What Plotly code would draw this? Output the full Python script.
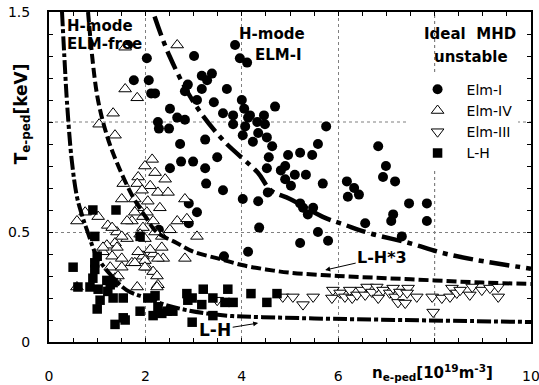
import plotly.graph_objects as go

# ---------------- data ----------------
elm1_n = [1.64, 2.03, 3.01, 3.86, 3.96, 4.11, 1.76, 2.07, 2.12, 2.20, 3.17, 3.38, 3.28, 2.88, 2.82, 3.17,
          3.07, 3.42, 3.69, 4.00, 2.51, 2.66, 2.82, 3.61, 3.82, 4.05, 4.13, 2.26, 2.28, 2.49, 3.82, 4.07,
          4.32, 2.72, 3.24, 2.74, 2.99, 2.51, 3.24, 3.49, 3.26, 3.61, 4.02, 2.90, 3.07, 2.90, 2.28, 4.23,
          4.02, 4.34, 4.36, 3.63, 4.13, 4.69, 4.46, 4.17, 4.48, 5.75, 4.34, 4.52, 4.63, 5.58, 5.21, 4.96,
          5.46, 4.56, 4.90, 4.81, 4.52, 5.10, 5.33, 4.90, 5.02, 5.68, 6.18, 6.33, 6.43, 6.20, 4.54, 6.83,
          6.99, 6.93, 7.18, 7.47, 7.84, 7.14, 7.10, 7.84, 6.56, 7.32, 5.21, 5.27, 5.48, 5.37, 5.58, 5.79, 5.21]
elm1_T = [1.35, 1.29, 1.30, 1.35, 1.29, 1.27, 1.19, 1.19, 1.13, 1.13, 1.21, 1.22, 1.19, 1.17, 1.14, 1.15,
          1.10, 1.09, 1.15, 1.10, 1.06, 1.02, 1.01, 1.04, 1.03, 1.06, 1.02, 1.00, 0.97, 0.97, 0.99, 0.98,
          1.00, 0.90, 0.92, 0.82, 0.82, 0.79, 0.79, 0.84, 0.72, 0.69, 0.65, 0.63, 0.59, 0.54, 0.51, 0.91,
          0.94, 0.64, 0.52, 0.39, 0.41, 1.07, 1.03, 1.03, 0.99, 0.98, 0.95, 0.93, 0.89, 0.90, 0.86, 0.85,
          0.85, 0.84, 0.80, 0.78, 0.79, 0.76, 0.76, 0.74, 0.71, 0.72, 0.73, 0.70, 0.67, 0.66, 0.68, 0.89,
          0.80, 0.75, 0.73, 0.63, 0.63, 0.58, 0.55, 0.55, 0.54, 0.48, 0.63, 0.61, 0.61, 0.58, 0.50, 0.46, 0.45]

elm4_n = [1.58, 2.66, 1.58, 1.83, 1.33, 1.04, 1.37, 2.14, 1.99, 2.20, 1.85, 2.41, 1.54, 1.83, 2.10, 1.93,
          2.26, 2.47, 2.82, 1.51, 1.78, 2.05, 2.30, 1.85, 1.95, 2.16, 2.66, 2.86, 1.72, 2.51, 1.95, 2.20,
          3.07, 1.89, 0.75, 0.58, 1.02, 1.22, 1.41, 1.62, 1.78, 2.03, 1.31, 2.34, 1.62, 1.37, 1.20, 1.12,
          1.31, 1.51, 1.72, 1.95, 2.16, 2.37, 2.82, 2.03, 2.16, 2.24, 2.26, 1.37, 1.83, 2.24, 0.58, 1.51,
          1.99, 1.12, 1.41, 1.85, 2.10, 2.34, 1.99, 2.26, 1.27, 1.51, 1.78, 1.99, 1.43]
elm4_T = [1.34, 1.35, 1.15, 1.11, 1.04, 0.99, 0.94, 0.83, 0.80, 0.77, 0.75, 0.74, 0.72, 0.72, 0.71, 0.69,
          0.68, 0.68, 0.65, 0.65, 0.65, 0.64, 0.61, 0.61, 0.57, 0.55, 0.55, 0.56, 0.55, 0.51, 0.52, 0.50,
          0.48, 0.49, 0.59, 0.55, 0.57, 0.53, 0.50, 0.55, 0.59, 0.59, 0.52, 0.48, 0.47, 0.45, 0.44, 0.41,
          0.39, 0.38, 0.36, 0.39, 0.40, 0.38, 0.38, 0.34, 0.32, 0.30, 0.26, 0.29, 0.25, 0.25, 0.25, 0.48,
          0.47, 0.43, 0.43, 0.41, 0.42, 0.43, 0.37, 0.38, 0.34, 0.34, 0.36, 0.34, 0.30]

elm3_n = [4.85, 5.06, 5.27, 5.48, 3.49, 5.89, 5.87, 6.04, 6.14, 6.24, 6.29, 6.39, 6.49, 6.60, 6.56, 6.70,
          6.80, 6.83, 6.93, 7.07, 7.14, 7.18, 7.24, 7.28, 7.39, 7.45, 7.43, 7.63, 7.95, 7.97, 8.15, 8.32,
          8.36, 8.46, 8.53, 8.73, 8.78, 8.98, 9.15, 9.32, 9.32]
elm3_T = [0.205, 0.205, 0.17, 0.205, 0.19, 0.236, 0.20, 0.223, 0.205, 0.236, 0.20, 0.214, 0.236, 0.25,
          0.214, 0.227, 0.25, 0.20, 0.236, 0.223, 0.245, 0.205, 0.18, 0.227, 0.177, 0.245, 0.223, 0.205,
          0.205, 0.136, 0.20, 0.205, 0.245, 0.223, 0.236, 0.214, 0.25, 0.236, 0.245, 0.25, 0.205]

lh_n = [0.50, 0.91, 1.39, 0.95, 1.89, 1.00, 0.95, 0.95, 0.91, 0.60, 0.85, 1.02, 1.20, 1.27, 1.33, 1.22,
        1.33, 1.54, 1.06, 1.00, 1.54, 1.37, 1.58, 1.89, 2.05, 2.20, 2.16, 2.34, 2.45, 2.86, 2.97, 2.88,
        3.20, 3.17, 3.40, 3.65, 3.71, 3.82, 3.40, 2.97, 4.19, 4.52, 4.73, 2.57, 2.26]
lh_T = [0.34, 0.60, 0.60, 0.48, 0.48, 0.39, 0.36, 0.33, 0.29, 0.25, 0.25, 0.24, 0.28, 0.26, 0.27, 0.23,
        0.20, 0.20, 0.19, 0.15, 0.11, 0.08, 0.10, 0.14, 0.20, 0.21, 0.12, 0.13, 0.14, 0.22, 0.20, 0.19,
        0.24, 0.17, 0.20, 0.18, 0.24, 0.18, 0.12, 0.09, 0.22, 0.18, 0.22, 0.14, 0.16]

# boundary curves
mhd_n = [2.19, 2.5, 3.0, 3.6, 4.33, 4.6, 5.0, 5.67, 6.17, 6.64, 7.47, 8.16, 8.86, 10.0]
mhd_T = [1.48, 1.30, 1.09, 0.92, 0.77, 0.69, 0.65, 0.57, 0.53, 0.495, 0.45, 0.405, 0.373, 0.333]

lh3_n = [0.81, 1.0, 1.2, 1.4, 1.74, 2.0, 2.23, 2.65, 3.0, 3.5, 4.0, 4.5, 5.0, 6.0, 7.0, 8.0, 9.0, 10.0]
lh3_T = [1.50, 1.12, 0.94, 0.82, 0.66, 0.57, 0.50, 0.45, 0.41, 0.38, 0.35, 0.33, 0.315, 0.30, 0.29, 0.28, 0.27, 0.264]

lh_curve_n = [0.27, 0.33, 0.37, 0.47, 0.58, 0.68, 0.81, 0.99, 1.26, 1.61, 2.02, 2.43, 2.85, 3.27, 3.8, 4.43,
              5.5, 7.33, 10.0]
lh_curve_T = [1.50, 1.25, 1.10, 0.83, 0.66, 0.58, 0.495, 0.39, 0.31, 0.236, 0.20, 0.168, 0.145, 0.13, 0.118,
              0.113, 0.107, 0.10, 0.091]

# labelled ticks (the reference leaves 8 and 1 unlabelled) and unlabelled grid positions
x_tickvals = [0, 2, 4, 6, 10]
x_ticktext = ["0", "2", "4", "6", "10"]
x_extra_grid = [8]
y_tickvals = [0, 0.5, 1.5]
y_ticktext = ["0", "0.5", "1.5"]
y_extra_grid = [1.0]

FONT = "DejaVu Sans"
GRID = dict(color="#808080", width=1.2, dash="dot")

fig = go.Figure()

fig.add_trace(go.Scatter(x=elm1_n, y=elm1_T, mode="markers", name="Elm-I",
                         marker=dict(symbol="circle", size=10, color="black")))
fig.add_trace(go.Scatter(x=elm4_n, y=elm4_T, mode="markers", name="Elm-IV",
                         marker=dict(symbol="triangle-up", size=11, color="white",
                                     line=dict(color="black", width=1))))
fig.add_trace(go.Scatter(x=elm3_n, y=elm3_T, mode="markers", name="Elm-III",
                         marker=dict(symbol="triangle-down", size=11, color="white",
                                     line=dict(color="black", width=1))))
fig.add_trace(go.Scatter(x=lh_n, y=lh_T, mode="markers", name="L-H",
                         marker=dict(symbol="square", size=9.5, color="black")))

fig.add_trace(go.Scatter(x=mhd_n, y=mhd_T, mode="lines", showlegend=False, line_shape="spline",
                         line=dict(color="black", width=4.5, dash="20px,6px,5px,6px")))
fig.add_trace(go.Scatter(x=lh3_n, y=lh3_T, mode="lines", showlegend=False, line_shape="spline",
                         line=dict(color="black", width=4, dash="10px,4px")))
fig.add_trace(go.Scatter(x=lh_curve_n, y=lh_curve_T, mode="lines", showlegend=False, line_shape="spline",
                         line=dict(color="black", width=4, dash="14px,3px,4px,3px")))

for xv in x_extra_grid:
    fig.add_shape(type="line", xref="x", yref="paper", x0=xv, x1=xv, y0=0, y1=1,
                  layer="below", line=GRID)
for yv in y_extra_grid:
    fig.add_shape(type="line", xref="paper", yref="y", x0=0, x1=1, y0=yv, y1=yv,
                  layer="below", line=GRID)

axis_common = dict(
    showline=True, linecolor="black", linewidth=2, mirror="ticks",
    ticks="inside", ticklen=4, tickcolor="black", tickwidth=1,
    showgrid=True, gridcolor=GRID["color"], gridwidth=GRID["width"], griddash=GRID["dash"],
    zeroline=False, automargin=False, ticklabeloverflow="allow",
    tickfont=dict(family=FONT, size=14, color="black"),
)

fig.update_xaxes(range=[0, 10], tickmode="array", tickvals=x_tickvals, ticktext=x_ticktext,
                 ticklabelstandoff=20,
                 minor=dict(tickmode="linear", tick0=0, dtick=0.5, ticks="inside", ticklen=4,
                            tickcolor="black", showgrid=False),
                 **axis_common)
fig.update_yaxes(range=[0, 1.5], tickmode="array", tickvals=y_tickvals, ticktext=y_ticktext,
                 ticklabelstandoff=14,
                 minor=dict(tickmode="linear", tick0=0, dtick=0.1, ticks="inside", ticklen=4,
                            tickcolor="black", showgrid=False),
                 **axis_common)

bold = dict(family=FONT, size=15, color="black", weight="bold")
ann = [
    dict(x=0.33, y=1.436, text="H-mode", xanchor="left", font=bold),
    dict(x=0.33, y=1.355, text="ELM-free", xanchor="left", font=bold),
    dict(x=4.63, y=1.40, text="H-mode", xanchor="center", font=bold),
    dict(x=4.77, y=1.305, text="ELM-I", xanchor="center", font=bold),
    dict(x=8.73, y=1.40, text="Ideal\u00a0\u00a0MHD", xanchor="center", font=bold),
    dict(x=8.76, y=1.295, text="unstable", xanchor="center", font=bold),
]
for a in ann:
    fig.add_annotation(xref="x", yref="y", showarrow=False, yanchor="middle", **a)

fig.add_annotation(xref="x", yref="y", x=5.73, y=0.327, text="L-H*3", showarrow=True,
                   ax=57, ay=-13, arrowhead=2, arrowsize=1, arrowwidth=1, arrowcolor="black",
                   font=dict(family=FONT, size=16, color="black", weight="bold"))
fig.add_annotation(xref="x", yref="y", x=4.34, y=0.086, text="L-H", showarrow=True,
                   ax=-43, ay=7, arrowhead=2, arrowsize=1, arrowwidth=1, arrowcolor="black",
                   font=dict(family=FONT, size=17, color="black", weight="bold"))

# axis titles
fig.add_annotation(xref="paper", yref="paper", x=-0.056, y=0.69, showarrow=False, textangle=-90,
                   text="T<sub>e-ped</sub>[keV]", xanchor="center", yanchor="middle",
                   font=dict(family=FONT, size=17, color="black", weight="bold"))
fig.add_annotation(xref="paper", yref="paper", x=0.796, y=-0.091, showarrow=False,
                   text="n<sub>e-ped</sub>[10<sup>19</sup>m<sup>-3</sup>]", xanchor="center",
                   yanchor="middle",
                   font=dict(family=FONT, size=15, color="black", weight="bold"))

fig.update_layout(
    width=539, height=385,
    margin=dict(l=49, r=8, t=12, b=43, autoexpand=False),
    paper_bgcolor="white", plot_bgcolor="white",
    font=dict(family=FONT, color="black"),
    legend=dict(x=0.746, y=0.813, xanchor="left", yanchor="top", bgcolor="white",
                borderwidth=0, itemwidth=48, tracegroupgap=0,
                font=dict(family=FONT, size=14, color="black")),
)

fig.write_html("out.html")
